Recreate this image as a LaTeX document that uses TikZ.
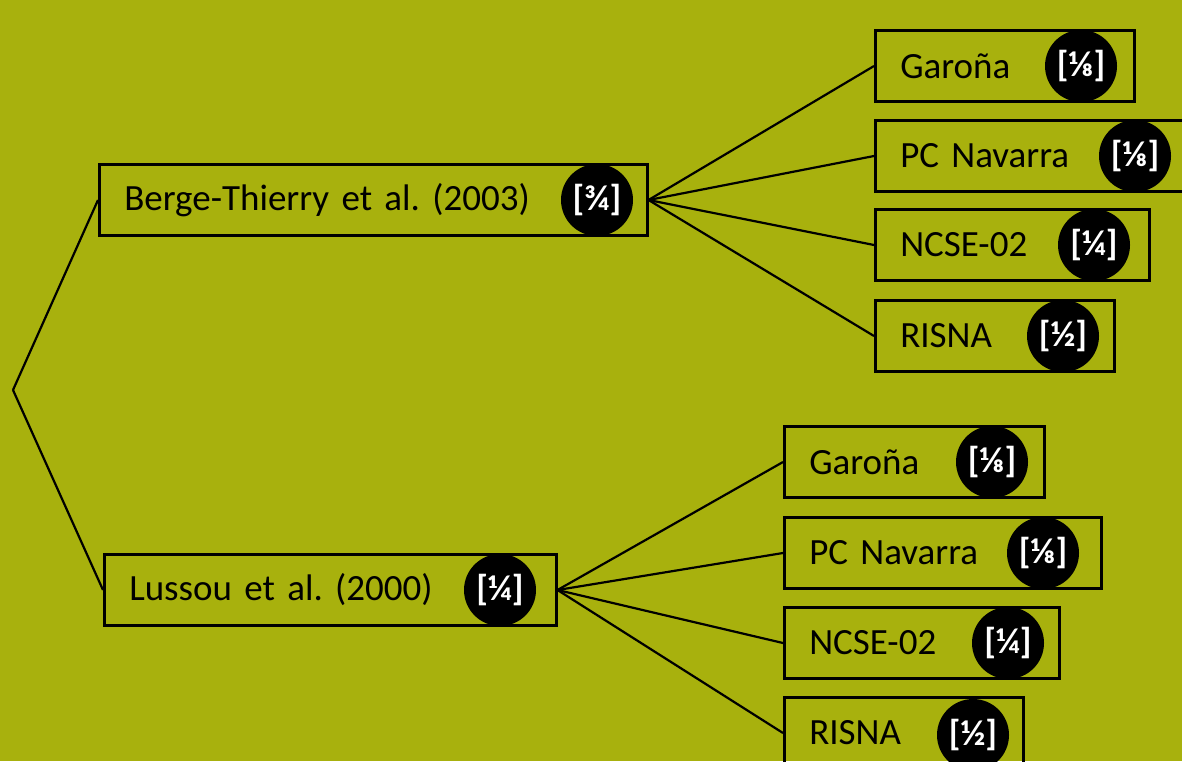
\documentclass[tikz,border=0pt]{standalone}
\usepackage{fontspec}
\setmainfont{Carlito}
\usepackage{xcolor}
\usepackage{tikz}
\usetikzlibrary{shapes,positioning}
\definecolor{olive}{RGB}{168,177,13}
\frenchspacing

\begin{document}
\begin{tikzpicture}
  [
    x=1pt, y=-1pt,
    Box/.style={rectangle, draw=black, line width=2.5pt, minimum height=71pt, inner xsep=25pt, inner ysep=0pt, text width=#1, align=left, anchor=west, font=\fontsize{37}{40}\selectfont},
    Frac/.style={circle, fill=black, text=white, minimum size=72pt, inner sep=0pt, font=\fontsize{36}{38}\selectfont\bfseries},
    Link/.style={draw, line width=2.2pt}
  ]
  \useasboundingbox (0,0) rectangle (1182,761);
  \fill[olive] (0,0) rectangle (1182,761);

  % Root
  \coordinate (r) at (13, 390);

  % Models
  \node[Box=498pt] (bt) at (98, 200) {Berge-Thierry et al. (2003)};
  \node[Box=402pt] (lu) at (103, 590) {Lussou et al. (2000)};
  \node[Frac] (btw) at (597, 200) {[¾]};
  \node[Frac] (luw) at (500, 590) {[¼]};

  % Catalogues, upper branch
  \node[Box=209pt] (bt1) at (874, 66) {Garoña};
  \node[Box=260pt] (bt2) at (874, 156) {PC Navarra};
  \node[Box=224pt] (bt3) at (874, 245) {NCSE-02};
  \node[Box=189pt] (bt4) at (874, 336) {RISNA};
  \node[Frac] (bt1w) at (1081, 66) {[⅛]};
  \node[Frac] (bt2w) at (1135, 156) {[⅛]};
  \node[Frac] (bt3w) at (1094, 245) {[¼]};
  \node[Frac] (bt4w) at (1063, 336) {[½]};

  % Catalogues, lower branch
  \node[Box=210pt] (lu1) at (783, 462) {Garoña};
  \node[Box=267pt] (lu2) at (783, 553) {PC Navarra};
  \node[Box=225pt] (lu3) at (783, 643) {NCSE-02};
  \node[Box=189pt] (lu4) at (783, 733) {RISNA};
  \node[Frac] (lu1w) at (992, 462) {[⅛]};
  \node[Frac] (lu2w) at (1043, 553) {[⅛]};
  \node[Frac] (lu3w) at (1008, 643) {[¼]};
  \node[Frac] (lu4w) at (973, 735) {[½]};

  % Lines
  \path [Link] (r) -- (bt.west);
  \path [Link] (r) -- (lu.west);
  \foreach \i in {1,...,4} {
    \path [Link] (bt.east) -- (bt\i.west);
    \path [Link] (lu.east) -- (lu\i.west);
  }

\end{tikzpicture}
\end{document}
